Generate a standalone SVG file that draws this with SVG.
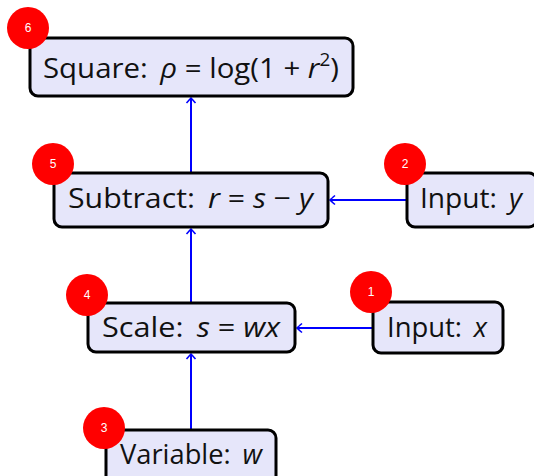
<svg xmlns="http://www.w3.org/2000/svg" width="534" height="476" viewBox="0 0 534 476">
<style>
.box{fill:#e6e6fa;stroke:#000;stroke-width:3}
.lbl{font-family:"Open Sans","DejaVu Sans",sans-serif;font-size:28px;fill:#111}
.m{font-style:italic}
.badge{fill:#ff0000}
.num{font-family:"Liberation Sans",sans-serif;font-size:12px;fill:#fff;text-anchor:middle}
.edge{stroke:#0000ff;stroke-width:2;fill:none}
</style>
<defs>
<marker id="arr" markerUnits="userSpaceOnUse" markerWidth="12" markerHeight="12" refX="0" refY="0" viewBox="-6 -6 12 12" orient="auto">
<path d="M-5,-4.5 Q-1,-1 0,0 Q-1,1 -5,4.5" stroke="#0000ff" stroke-width="1.6" fill="none"/>
</marker>
</defs>
<g id="connectors">
<path class="edge" d="M191,430 V354" marker-end="url(#arr)"/>
<path class="edge" d="M191,303 V229" marker-end="url(#arr)"/>
<path class="edge" d="M191,173 V98" marker-end="url(#arr)"/>
<path class="edge" d="M406,200 H330" marker-end="url(#arr)"/>
<path class="edge" d="M372,328 H297" marker-end="url(#arr)"/>
</g>
<g id="n6">
<rect class="box" x="30" y="38" width="323" height="58" rx="8"/>
<text class="lbl" x="43" y="78" textLength="296" lengthAdjust="spacingAndGlyphs">Square:<tspan class="m" dx="12">ρ</tspan> = log(1 + <tspan class="m">r</tspan><tspan font-size="18" dy="-12">2</tspan><tspan dy="12">)</tspan></text>
<circle class="badge" cx="28" cy="28" r="21"/>
<text class="num" x="28" y="32">6</text>
</g>
<g id="n5">
<rect class="box" x="54" y="173" width="274" height="54" rx="8"/>
<text class="lbl" x="68" y="208" textLength="245" lengthAdjust="spacingAndGlyphs">Subtract:<tspan class="m" dx="12">r</tspan> = <tspan class="m">s</tspan> − <tspan class="m">y</tspan></text>
<circle class="badge" cx="53" cy="164" r="21"/>
<text class="num" x="53" y="168">5</text>
</g>
<g id="n2">
<rect class="box" x="407" y="173" width="130" height="54" rx="8"/>
<text class="lbl" x="420" y="208" textLength="102" lengthAdjust="spacingAndGlyphs">Input:<tspan class="m" dx="12">y</tspan></text>
<circle class="badge" cx="405" cy="164" r="21"/>
<text class="num" x="405" y="168">2</text>
</g>
<g id="n4">
<rect class="box" x="88" y="303" width="207" height="49" rx="8"/>
<text class="lbl" x="102" y="337" textLength="178" lengthAdjust="spacingAndGlyphs">Scale:<tspan class="m" dx="12">s</tspan> = <tspan class="m">wx</tspan></text>
<circle class="badge" cx="87" cy="295" r="21"/>
<text class="num" x="87" y="299">4</text>
</g>
<g id="n1">
<rect class="box" x="373" y="302" width="130" height="51" rx="8"/>
<text class="lbl" x="387" y="337" textLength="100" lengthAdjust="spacingAndGlyphs">Input:<tspan class="m" dx="12">x</tspan></text>
<circle class="badge" cx="371" cy="292" r="21"/>
<text class="num" x="371" y="296">1</text>
</g>
<g id="n3">
<rect class="box" x="106" y="430" width="170" height="54" rx="8"/>
<text class="lbl" x="120" y="464" textLength="142" lengthAdjust="spacingAndGlyphs">Variable:<tspan class="m" dx="12">w</tspan></text>
<circle class="badge" cx="104" cy="428" r="21"/>
<text class="num" x="104" y="432">3</text>
</g>
</svg>
